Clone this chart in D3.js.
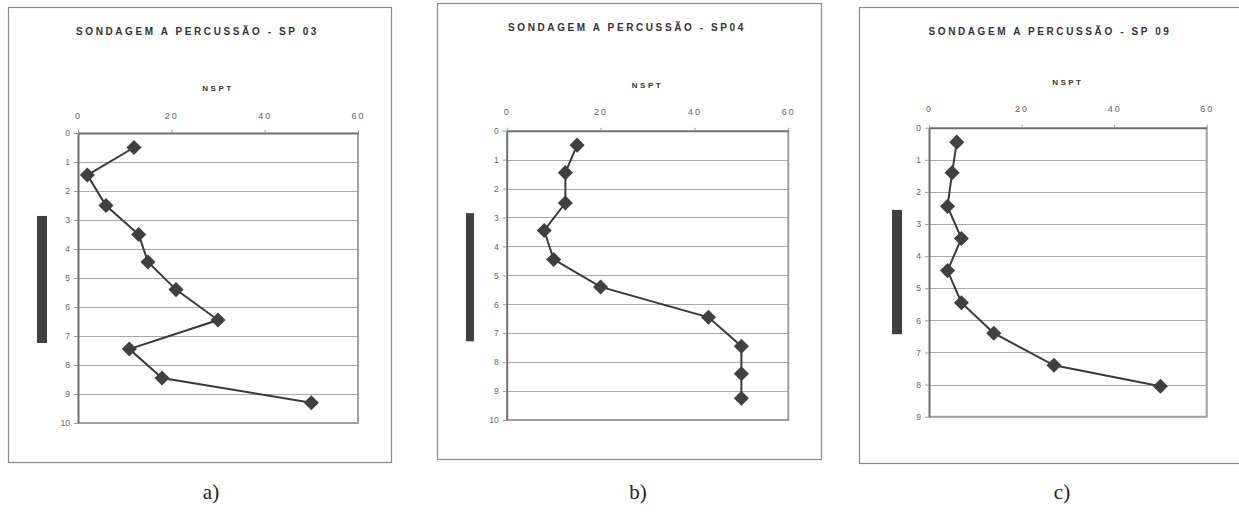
<!doctype html>
<html>
<head>
<meta charset="utf-8">
<script src="https://d3js.org/d3.v7.min.js"></script>
<style>
  body { margin: 0; background: #fff; }
  svg { display: block; }
</style>
</head>
<body>
<svg id="chart" width="1239" height="512"></svg>
<script>

    // SP 03
    var depthA = [0.5, 1.45, 2.5, 3.5, 4.45, 5.4, 6.45, 7.45, 8.45, 9.3];
    var nsptA  = [12, 2, 6, 13, 15, 21, 30, 11, 18, 50];
    var layerA = [2.86, 7.24];

    // SP 04
    var depthB = [0.5, 1.45, 2.5, 3.45, 4.45, 5.4, 6.45, 7.45, 8.4, 9.25];
    var nsptB  = [15, 12.5, 12.5, 8, 10, 20, 43, 50, 50, 50];
    var layerB = [2.85, 7.28];

    // SP 09
    var depthC = [0.45, 1.4, 2.45, 3.45, 4.45, 5.45, 6.4, 7.4, 8.05];
    var nsptC  = [6, 5, 4, 7, 4, 7, 14, 27, 50];
    var layerC = [2.56, 6.43];

    var titles   = ["SONDAGEM A PERCUSSÃO - SP 03", "SONDAGEM A PERCUSSÃO - SP04", "SONDAGEM A PERCUSSÃO - SP 09"];
    var captions = ["a)", "b)", "c)"];
    var xTicks   = [0, 20, 40, 60];
    var maxDepth = [10, 10, 9];

    var svg = d3.select("#chart");

    var panels = [
        { frame: [8, 7, 391, 462],   plot: [78, 133, 358, 423],     bar: [37, 47],   titleY: 31, nsptY: 88, tickY: 116, cap: 211,
          depth: depthA, nspt: nsptA, layer: layerA },
        { frame: [437, 3, 821, 459], plot: [506.7, 130.7, 788.3, 420], bar: [466, 474], titleY: 27, nsptY: 85, tickY: 112, cap: 638,
          depth: depthB, nspt: nsptB, layer: layerB },
        { frame: [859, 7, 1245, 463], plot: [929, 127.7, 1206.7, 416.7], bar: [892, 902], titleY: 31, nsptY: 82, tickY: 109, cap: 1062,
          depth: depthC, nspt: nsptC, layer: layerC }
    ];

    panels.forEach(function (p, i) {
        var g = svg.append("g");

        g.append("rect")
            .attr("x", p.frame[0] + 0.5).attr("y", p.frame[1] + 0.5)
            .attr("width", p.frame[2] - p.frame[0]).attr("height", p.frame[3] - p.frame[1])
            .attr("fill", "none").attr("stroke", "#8a8a8a").attr("stroke-width", 1.2);

        var x = d3.scaleLinear().domain([0, 60]).range([p.plot[0], p.plot[2]]);
        var y = d3.scaleLinear().domain([0, maxDepth[i]]).range([p.plot[1], p.plot[3]]);

        // title
        g.append("text")
            .attr("x", (p.frame[0] + p.frame[2]) / 2 - 2)
            .attr("y", p.titleY + 4)
            .attr("text-anchor", "middle")
            .style("font-family", "'Liberation Sans', Arial, sans-serif")
            .style("font-size", "10px")
            .style("font-weight", "bold")
            .style("letter-spacing", "2.6px")
            .style("fill", "#333")
            .text(titles[i]);

        g.append("text")
            .attr("x", (p.plot[0] + p.plot[2]) / 2)
            .attr("y", p.nsptY + 3)
            .attr("text-anchor", "middle")
            .style("font-family", "'Liberation Sans', Arial, sans-serif")
            .style("font-size", "8px")
            .style("font-weight", "bold")
            .style("letter-spacing", "2.5px")
            .style("fill", "#333")
            .text("NSPT");

        // gridlines
        g.append("g").selectAll("line")
            .data(d3.range(1, maxDepth[i]))
            .enter().append("line")
            .attr("x1", p.plot[0]).attr("x2", p.plot[2])
            .attr("y1", function (d) { return Math.round(y(d)) + 0.5; })
            .attr("y2", function (d) { return Math.round(y(d)) + 0.5; })
            .attr("stroke", "#a8a8a8").attr("stroke-width", 1.2);

        // right + bottom border
        g.append("path")
            .attr("d", "M" + p.plot[2] + "," + p.plot[1] + "V" + p.plot[3] + "H" + p.plot[0])
            .attr("fill", "none").attr("stroke", "#a0a0a0").attr("stroke-width", 2);

        // top axis
        var xAxis = d3.axisTop(x).tickValues(xTicks).tickSize(3).tickSizeOuter(0)
            .tickFormat(function (d) { return d; });
        var gx = g.append("g")
            .attr("transform", "translate(0," + p.plot[1] + ")")
            .call(xAxis);
        gx.select(".domain").attr("stroke", "#707070").attr("stroke-width", 2);
        gx.selectAll(".tick line").attr("stroke", "#999");
        gx.selectAll(".tick text")
            .attr("y", p.tickY - p.plot[1] + 3)
            .attr("dy", 0)
            .style("font-family", "'Liberation Sans', Arial, sans-serif")
            .style("font-size", "9px")
            .style("letter-spacing", "2px")
            .style("fill", "#666");

        // left axis
        var yAxis = d3.axisLeft(y).ticks(maxDepth[i]).tickSize(4).tickSizeOuter(0);
        var gy = g.append("g")
            .attr("transform", "translate(" + p.plot[0] + ",0)")
            .call(yAxis);
        gy.select(".domain").attr("stroke", "#707070").attr("stroke-width", 2);
        gy.selectAll(".tick line").attr("stroke", "#999");
        gy.selectAll(".tick text")
            .attr("x", -8)
            .style("font-family", "'Liberation Sans', Arial, sans-serif")
            .style("font-size", "8.5px")
            .style("fill", "#666");

        // layer bar
        g.append("rect")
            .attr("x", p.bar[0]).attr("width", p.bar[1] - p.bar[0])
            .attr("y", y(p.layer[0]))
            .attr("height", y(p.layer[1]) - y(p.layer[0]))
            .attr("fill", "#404040");

        var pts = p.depth.map(function (d, k) { return [p.nspt[k], d]; });

        var line = d3.line()
            .x(function (d) { return x(d[0]); })
            .y(function (d) { return y(d[1]); });

        g.append("path")
            .datum(pts)
            .attr("d", line)
            .attr("fill", "none")
            .attr("stroke", "#3a3a3a")
            .attr("stroke-width", 2);

        g.append("g").selectAll("path")
            .data(pts)
            .enter().append("path")
            .attr("transform", function (d) { return "translate(" + x(d[0]) + "," + y(d[1]) + ")"; })
            .attr("d", d3.symbol().type(d3.symbolDiamond2).size(145))
            .attr("fill", "#404040");

        // caption
        g.append("text")
            .attr("x", p.cap)
            .attr("y", 499)
            .attr("text-anchor", "middle")
            .style("font-family", "'Liberation Serif', 'Times New Roman', serif")
            .style("font-size", "21px")
            .style("fill", "#222")
            .text(captions[i]);
    });

</script>
</body>
</html>
